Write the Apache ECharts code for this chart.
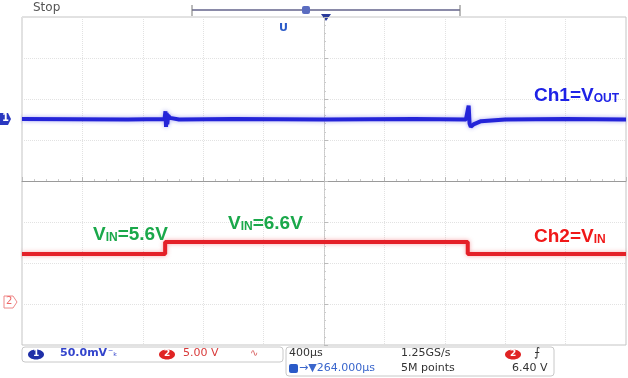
<!DOCTYPE html>
<html>
<head>
<meta charset="utf-8">
<script src="https://cdn.jsdelivr.net/npm/echarts@6/dist/echarts.min.js"></script>
<style>
  html, body { margin: 0; padding: 0; background: #fff; }
  #chart { width: 628px; height: 378px; }
</style>
</head>
<body>
<div id="chart"></div>
<script>
// time in µs (400 µs/div, trigger at centre), vertical in divisions
const ch1Time = [-2000, -1300, -1056, -1050, -1046, -1042, -1038, -1032, -1020, -960, -600, 0, 600, 940, 952, 958, 964, 972, 990, 1040, 1200, 1600, 2000];
const ch1Div  = [1.51, 1.50, 1.51, 1.70, 1.32, 1.66, 1.38, 1.60, 1.54, 1.50, 1.51, 1.50, 1.51, 1.50, 1.52, 1.84, 1.40, 1.32, 1.38, 1.46, 1.50, 1.51, 1.50];

const ch2Time = [-2000, -1052, -1052, 952, 952, 2000];
const ch2Div  = [-1.78, -1.78, -1.49, -1.49, -1.78, -1.78];

const xTicks = { min: -2000, max: 2000, interval: 400 };
const yTicks = { min: -4, max: 4, interval: 1 };

let myChart = echarts.init(document.getElementById('chart'));

function label(x, y, parts, color) {
    return {
        type: 'text', left: x, top: y, z: 100,
        style: {
            text: parts,
            rich: {
                big: { fontFamily: 'Liberation Sans', fontWeight: 'bold', fontSize: 19, fill: color, verticalAlign: 'bottom', lineHeight: 22 },
                small: { fontFamily: 'Liberation Sans', fontWeight: 'bold', fontSize: 12, fill: color, verticalAlign: 'bottom', lineHeight: 15 }
            }
        }
    };
}

let option = {
    animation: false,
    backgroundColor: '#fff',
    grid: { left: 22, right: 2, top: 17, bottom: 33, show: true, borderColor: '#c4c4c4', borderWidth: 1 },
    xAxis: {
        type: 'value', min: xTicks.min, max: xTicks.max, interval: xTicks.interval,
        axisLine: { onZero: true, lineStyle: { color: '#9a9a9a', width: 1 } },
        axisTick: { show: true, inside: true, length: 4, lineStyle: { color: '#bbb' } },
        minorTick: { show: true, splitNumber: 5, length: 2, lineStyle: { color: '#ccc' } },
        axisLabel: { show: false },
        splitLine: { show: true, lineStyle: { type: 'dotted', color: '#e2e2e2' } }
    },
    yAxis: {
        type: 'value', min: yTicks.min, max: yTicks.max, interval: yTicks.interval,
        axisLine: { onZero: true, lineStyle: { color: '#c8c8c8', width: 1, type: 'dotted' } },
        axisTick: { show: true, inside: true, length: 4, lineStyle: { color: '#bbb' } },
        minorTick: { show: true, splitNumber: 5, length: 2, lineStyle: { color: '#ccc' } },
        axisLabel: { show: false },
        splitLine: { show: true, lineStyle: { type: 'dotted', color: '#e2e2e2' } }
    },
    series: [
        {
            name: 'Ch1', type: 'line', showSymbol: false, z: 5,
            data: ch1Time.map((t, i) => [t, ch1Div[i]]),
            lineStyle: { color: '#2424d8', width: 4, shadowColor: 'rgba(60,60,230,0.45)', shadowBlur: 4 }
        },
        {
            name: 'Ch2', type: 'line', showSymbol: false, z: 4,
            data: ch2Time.map((t, i) => [t, ch2Div[i]]),
            lineStyle: { color: '#e42028', width: 4, shadowColor: 'rgba(240,80,90,0.5)', shadowBlur: 4 }
        }
    ],
    graphic: [
        { type: 'text', left: 33, top: 2, style: { text: 'Stop', font: '12px "DejaVu Sans"', fill: '#555' } },
        { type: 'line', shape: { x1: 192, y1: 10, x2: 460, y2: 10 }, style: { stroke: '#8a8aa8', lineWidth: 2 } },
        { type: 'line', shape: { x1: 192, y1: 5, x2: 192, y2: 16 }, style: { stroke: '#777', lineWidth: 1 } },
        { type: 'line', shape: { x1: 460, y1: 5, x2: 460, y2: 16 }, style: { stroke: '#777', lineWidth: 1 } },
        { type: 'rect', shape: { x: 302, y: 6, width: 8, height: 8, r: 2 }, style: { fill: '#5a6cc0' } },
        { type: 'polygon', shape: { points: [[321, 14], [331, 14], [326, 21]] }, style: { fill: '#2a3a9a' } },
        { type: 'text', left: 279, top: 23, style: { text: 'U', font: 'bold 11px "DejaVu Sans"', fill: '#2a5ac8' } },
        // channel markers
        { type: 'polygon', shape: { points: [[0, 113], [8, 113], [11, 119], [8, 125], [0, 125]] }, style: { fill: '#2a38c0' } },
        { type: 'text', left: 2, top: 113, style: { text: '1', font: 'bold 10px "DejaVu Sans"', fill: '#fff' } },
        { type: 'polygon', shape: { points: [[4, 296], [13, 296], [17, 302], [13, 308], [4, 308]] }, style: { fill: '#fff', stroke: '#e88', lineWidth: 1 } },
        { type: 'text', left: 6, top: 296, style: { text: '2', font: '10px "DejaVu Sans"', fill: '#e66' } },
        // annotations
        label(534, 86, '{big|Ch1=V}{small|OUT}', '#1e22e6'),
        label(93, 225, '{big|V}{small|IN}{big|=5.6V}', '#1aa84a'),
        label(228, 214, '{big|V}{small|IN}{big|=6.6V}', '#1aa84a'),
        label(534, 227, '{big|Ch2=V}{small|IN}', '#f01818'),
        // status bar
        { type: 'rect', shape: { x: 22, y: 347, width: 261, height: 15, r: 3 }, style: { fill: '#fff', stroke: '#c8c8c8', lineWidth: 1 } },
        { type: 'rect', shape: { x: 286, y: 347, width: 268, height: 29, r: 3 }, style: { fill: '#fff', stroke: '#c8c8c8', lineWidth: 1 } },
        { type: 'ellipse', shape: { cx: 36, cy: 354.5, rx: 8, ry: 5 }, style: { fill: '#1f2fa8' } },
        { type: 'text', left: 33, top: 349, style: { text: '1', font: 'bold 9px "DejaVu Sans"', fill: '#fff' } },
        { type: 'text', left: 60, top: 348, style: { text: '50.0mV', font: 'bold 11px "DejaVu Sans"', fill: '#3344cc' } },
        { type: 'text', left: 108, top: 348, style: { text: '⁻ₖ', font: '10px "DejaVu Sans"', fill: '#3344cc' } },
        { type: 'ellipse', shape: { cx: 167, cy: 354.5, rx: 8, ry: 5 }, style: { fill: '#e02424' } },
        { type: 'text', left: 164, top: 349, style: { text: '2', font: 'bold 9px "DejaVu Sans"', fill: '#fff' } },
        { type: 'text', left: 183, top: 348, style: { text: '5.00 V', font: '11px "DejaVu Sans"', fill: '#d83a3a' } },
        { type: 'text', left: 250, top: 348, style: { text: '∿', font: '10px "DejaVu Sans"', fill: '#d86060' } },
        { type: 'text', left: 289, top: 348, style: { text: '400µs', font: '11px "DejaVu Sans"', fill: '#333' } },
        { type: 'text', left: 401, top: 348, style: { text: '1.25GS/s', font: '11px "DejaVu Sans"', fill: '#333' } },
        { type: 'ellipse', shape: { cx: 513, cy: 354.5, rx: 8, ry: 5 }, style: { fill: '#e02424' } },
        { type: 'text', left: 510, top: 349, style: { text: '2', font: 'bold 9px "DejaVu Sans"', fill: '#fff' } },
        { type: 'text', left: 534, top: 347, style: { text: '⨍', font: '12px "DejaVu Sans"', fill: '#333' } },
        { type: 'rect', shape: { x: 289, y: 364, width: 9, height: 9, r: 2 }, style: { fill: '#2a5ac8' } },
        { type: 'text', left: 299, top: 363, style: { text: '→▼264.000µs', font: '11px "DejaVu Sans"', fill: '#3a66cc' } },
        { type: 'text', left: 401, top: 363, style: { text: '5M points', font: '11px "DejaVu Sans"', fill: '#333' } },
        { type: 'text', left: 512, top: 363, style: { text: '6.40 V', font: '11px "DejaVu Sans"', fill: '#333' } }
    ]
};

option && myChart.setOption(option);
</script>
</body>
</html>
